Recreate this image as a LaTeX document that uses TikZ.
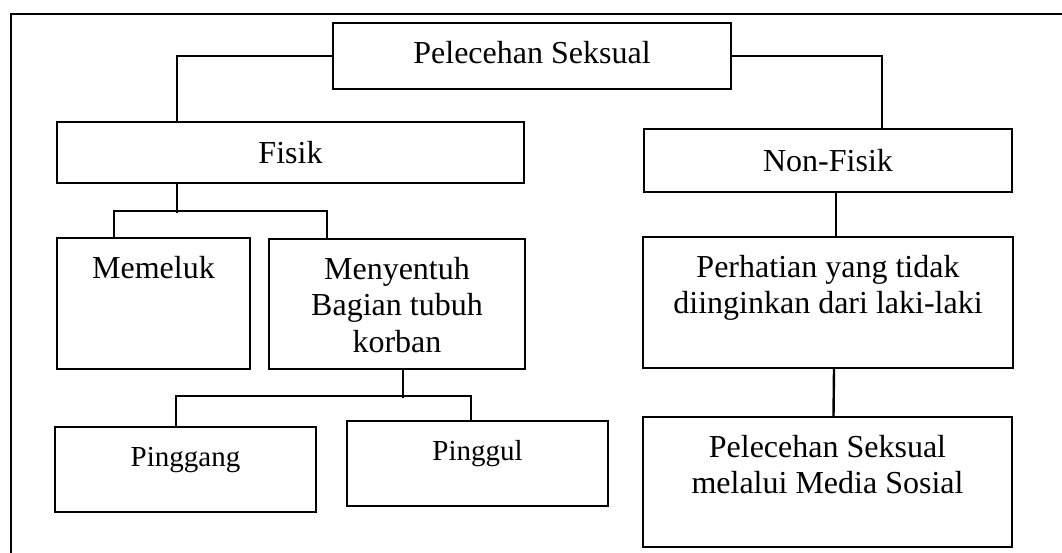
\documentclass[tikz,border=0pt]{standalone}
\usepackage{fontspec}
\setmainfont{Liberation Serif}
\newcommand{\mlines}[1]{\begin{tabular}[t]{@{}c@{}}#1\end{tabular}}
\begin{document}
\begin{tikzpicture}[x=1pt,y=-1pt,
  box/.style={draw, line width=2.4pt, inner sep=0pt, rectangle},
  lbl/.style={anchor=base, inner sep=0pt, font=\fontsize{32}{36.5}\selectfont},
  lblsm/.style={anchor=base, inner sep=0pt, font=\fontsize{29}{33}\selectfont},
  conn/.style={line width=2.4pt}]
\useasboundingbox (0,0) rectangle (1062,552);
% outer frame (cropped)
\draw[line width=2.6pt] (11,560) -- (11,14) -- (1070,14);
% boxes
\node[box, minimum width=398pt, minimum height=66pt] (pel) at (532,56) {};
\node[box, minimum width=467pt, minimum height=61pt] (fisik) at (290.5,152.5) {};
\node[box, minimum width=368pt, minimum height=63pt] (non) at (828,160.5) {};
\node[box, minimum width=193pt, minimum height=131pt] (mem) at (153.5,303.5) {};
\node[box, minimum width=256pt, minimum height=130pt] (men) at (397,304) {};
\node[box, minimum width=370pt, minimum height=131pt] (per) at (828,302.5) {};
\node[box, minimum width=261pt, minimum height=85pt] (pgg) at (185.5,469.5) {};
\node[box, minimum width=261pt, minimum height=85pt] (pgl) at (477.5,463.5) {};
\node[box, minimum width=369pt, minimum height=130pt] (med) at (827.5,482) {};
% texts
\node[lbl] (tpel) at (532,63) {Pelecehan Seksual};
\node[lbl] (tfis) at (290.5,163) {Fisik};
\node[lbl] (tnon) at (828,171) {Non-Fisik};
\node[lbl] (tmem) at (153.5,278) {Memeluk};
\node[lbl] (tmen) at (397,279) {\mlines{Menyentuh\\Bagian tubuh\\korban}};
\node[lbl] (tper) at (828,277) {\mlines{Perhatian yang tidak\\diinginkan dari laki-laki}};
\node[lblsm] (tpgg) at (185.5,466) {Pinggang};
\node[lblsm] (tpgl) at (477.5,460) {Pinggul};
\node[lbl] (tmed) at (827.5,457) {\mlines{Pelecehan Seksual\\melalui Media Sosial}};
% connectors
\draw[conn] (pel.west) -| ([xshift=121pt]fisik.north west);
\draw[conn] (pel.east) -| ([xshift=239pt]non.north west);
\draw[conn] ([xshift=121pt]fisik.south west) -- ++(0,29);
\draw[conn] ([xshift=58pt]mem.north west) -- ++(0,-26) -| ([xshift=59pt]men.north west);
\draw[conn] ([xshift=8pt]non.south) -- ([xshift=8pt]per.north);
\draw[conn] ([xshift=6pt]men.south) -- ++(0,28);
\draw[conn] ([xshift=-9.5pt]pgg.north) -- ++(0,-30) -| ([xshift=-6.5pt]pgl.north);
\draw[conn] ([xshift=6pt]per.south) -- ([xshift=6pt]med.north);
\end{tikzpicture}
\end{document}
